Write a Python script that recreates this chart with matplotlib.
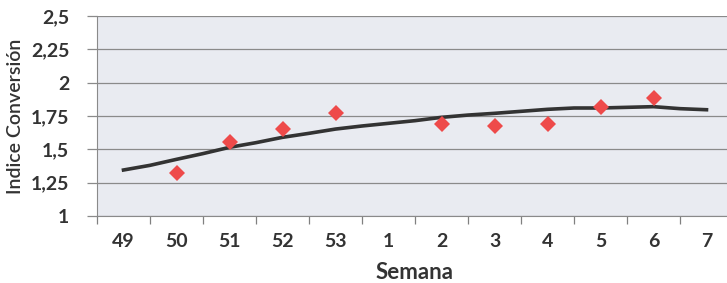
import matplotlib
matplotlib.use("Agg")
import matplotlib.pyplot as plt
import numpy as np
from matplotlib.ticker import FixedLocator, FuncFormatter

plt.rcParams['font.family'] = ['Lato', 'DejaVu Sans']

weeks = ["49", "50", "51", "52", "53", "1", "2", "3", "4", "5", "6", "7"]
# Observed conversion index (red diamonds), weeks 50..6
obs_weeks_idx = [1, 2, 3, 4, 6, 7, 8, 9, 10]
obs_values = [1.325, 1.553, 1.65, 1.775, 1.69, 1.675, 1.687, 1.82, 1.885]
# Reference curve (black line), read at half-week steps from 49 to 7
curve_pos = [0, 0.5, 1, 1.5, 2, 2.5, 3, 3.5, 4, 4.5, 5, 5.5, 6, 6.5, 7, 7.5,
             8, 8.5, 9, 9.5, 10, 10.5, 11]
curve_values = [1.345, 1.38, 1.425, 1.468, 1.515, 1.55, 1.59, 1.62, 1.652,
                1.675, 1.695, 1.715, 1.74, 1.757, 1.77, 1.785, 1.80, 1.81,
                1.81, 1.815, 1.82, 1.805, 1.797]
y_ticks = [1, 1.25, 1.5, 1.75, 2, 2.25, 2.5]

W, H = 727, 283
fig = plt.figure(figsize=(W / 100, H / 100), dpi=100)
ax = fig.add_axes([97 / W, (H - 216) / H, 636 / W, 200 / H])
ax.set_facecolor('#e9ebf1')

ax.plot(curve_pos, curve_values, color='#333333', lw=2.6, solid_joinstyle='miter', zorder=3)
ax.plot(obs_weeks_idx, obs_values, linestyle='none', marker='D', ms=8.5,
        color='#ee4a4a', markeredgewidth=0, zorder=4)

ax.set_xlim(-0.5, 11.5)
ax.set_ylim(1, 2.5)
ax.set_yticks(y_ticks)
ax.yaxis.set_major_formatter(FuncFormatter(lambda v, p: ('%g' % v).replace('.', ',')))
ax.grid(axis='y', color='#8a8a8a', lw=0.9)
ax.set_axisbelow(True)

ax.set_xticks(range(len(weeks)))
ax.set_xticklabels(weeks)
ax.xaxis.set_minor_locator(FixedLocator(np.arange(-0.5, 12, 1)))
ax.tick_params(axis='x', which='major', length=0, pad=12, labelsize=14, labelcolor='#333333')
ax.tick_params(axis='x', which='minor', length=6, color='#808080', width=0.9)
ax.tick_params(axis='y', length=7, color='#8a8a8a', width=0.9, pad=13, labelsize=14, labelcolor='#333333')
for lab in ax.get_xticklabels() + ax.get_yticklabels():
    lab.set_fontweight('bold')

for s in ['top', 'right']:
    ax.spines[s].set_visible(False)
ax.spines['left'].set_color('#8a8a8a')
ax.spines['bottom'].set_color('#8a8a8a')

ax.set_xlabel('Semana', fontsize=16, fontweight='bold', color='#333333', labelpad=9)
ax.set_ylabel('Indice Conversión', fontsize=14, fontweight='semibold', color='#333333', labelpad=5)

fig.savefig('out.png', dpi=100)
